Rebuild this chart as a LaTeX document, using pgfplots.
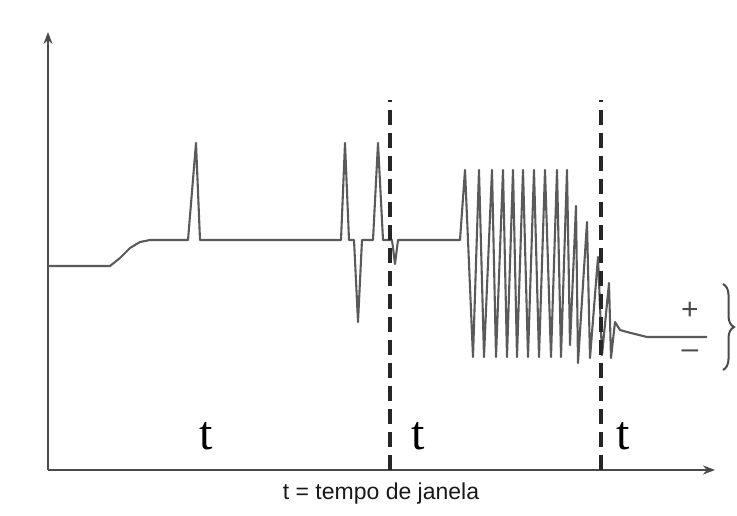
\documentclass[border=0pt]{standalone}
\usepackage{pgfplots}
\pgfplotsset{compat=1.18}
\usepackage{fontspec}
\setmainfont{Liberation Sans}
\newfontfamily\serift{Liberation Serif}
\usetikzlibrary{arrows.meta,decorations.pathreplacing}
\definecolor{sig}{HTML}{5A5A5A}
\definecolor{axc}{HTML}{4A4A4A}
\begin{document}
\begin{tikzpicture}
\begin{axis}[
    scale only axis,
    width=667pt, height=438pt,
    xmin=48, xmax=715,
    ymin=46, ymax=484,
    axis lines=left,
    axis line style={axc, line width=2.2pt},
    x axis line style={-{Stealth[length=12pt,width=9pt]}},
    y axis line style={-{Stealth[length=12pt,width=9pt]}},
    xtick=\empty, ytick=\empty,
    clip=false,
]
% signal (pixel x, 516 - pixel y)
\addplot[sig, line width=2.1pt, line join=round] coordinates {
(48,250)(110,250)(120,258)(130,268)(140,274)(150,276)(188,276)
(196,373)(200,276)(341,276)(345,373)(349,276)(354,276)(358,194)
(362,276)(373,276)(378,373)(383,276)(392,276)(395,252)(398,276)
(460,276)(465,346)(473,159)(479,346)(484,159)(492,346)(496,159)
(503,346)(507,159)(513,346)(517,159)(523,346)(528,159)(534,346)
(539,159)(545,346)(551,159)(557,346)(561,159)(567,346)(570,171)
(576,310)(578,153)(587,294)(590,158)(598,259)(602,161)(609,233)
(611,158)(615,194)(620,186)(627,184)(647,179)(707,179)
};
% window boundaries
\addplot[black!85, line width=3.2pt, dash pattern=on 15pt off 8pt] coordinates {(390,46)(390,416)};
\addplot[black!85, line width=3.2pt, dash pattern=on 15pt off 8pt] coordinates {(601,46)(601,416)};
\node[font=\serift\fontsize{48}{52}\selectfont] at (axis cs:206,80) {t};
\node[font=\serift\fontsize{48}{52}\selectfont] at (axis cs:418,80) {t};
\node[font=\serift\fontsize{48}{52}\selectfont] at (axis cs:623,80) {t};
\node[font=\fontsize{23}{26}\selectfont, text=black!90] at (axis cs:381,22) {t = tempo de janela};
\node[font=\fontsize{30}{32}\selectfont, text=axc] at (axis cs:690,205) {+};
\node[font=\fontsize{30}{32}\selectfont, text=axc] at (axis cs:690,162) {\textendash};
\draw[axc, line width=2pt, decorate, decoration={brace, amplitude=11pt}]
  (axis cs:723,232) -- (axis cs:723,146);
\coordinate (bl) at (axis cs:0,0);
\coordinate (tr) at (axis cs:737,516);
\end{axis}
\pgfresetboundingbox
\path[use as bounding box] (bl) rectangle (tr);
\end{tikzpicture}
\end{document}
